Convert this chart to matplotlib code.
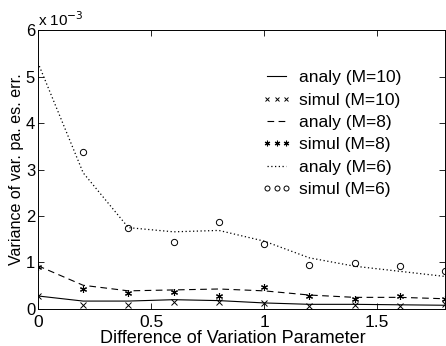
import numpy as np
import matplotlib
matplotlib.use('Agg')
import matplotlib.pyplot as plt

plt.rcParams['font.family'] = ['Liberation Sans', 'DejaVu Sans']

x = [0, 0.2, 0.4, 0.6, 0.8, 1.0, 1.2, 1.4, 1.6, 1.8]

# values in units of 1e-3
analy_m10 = [0.28, 0.17, 0.17, 0.20, 0.18, 0.13, 0.10, 0.10, 0.09, 0.08]
simul_m10 = [0.27, 0.09, 0.09, 0.14, 0.14, 0.12, 0.06, 0.08, 0.06, 0.10]
analy_m8 = [0.93, 0.51, 0.39, 0.41, 0.43, 0.39, 0.30, 0.25, 0.25, 0.22]
simul_m8 = [0.90, 0.43, 0.34, 0.37, 0.28, 0.47, 0.28, 0.22, 0.28, 0.22]
analy_m6 = [5.30, 2.93, 1.75, 1.66, 1.69, 1.46, 1.10, 0.92, 0.81, 0.70]
x_sim6 = [0.2, 0.4, 0.6, 0.8, 1.0, 1.2, 1.4, 1.6, 1.8]
simul_m6 = [3.38, 1.75, 1.44, 1.87, 1.39, 0.95, 0.99, 0.92, 0.81]

s = 1e-3
fig = plt.figure(figsize=(4.46, 3.46), dpi=100)
ax = fig.add_axes([0.085, 0.107, 0.913, 0.806])

ax.plot(x, np.array(analy_m10)*s, color='black', ls='-', lw=0.8, label='analy (M=10)')
ax.plot(x, np.array(simul_m10)*s, color='black', ls='none', marker='x', ms=4, mew=0.7, label='simul (M=10)')
ax.plot(x, np.array(analy_m8)*s, color='black', ls=(0, (6, 4)), lw=0.8, label='analy (M=8)')
ax.plot(x, np.array(simul_m8)*s, color='black', ls='none', marker=(6, 2, 0), ms=5, mew=0.8, label='simul (M=8)')
ax.plot(x, np.array(analy_m6)*s, color='black', ls=(0, (1, 2)), lw=0.9, label='analy (M=6)')
ax.plot(x_sim6, np.array(simul_m6)*s, color='black', ls='none', marker='o', ms=4.5, mfc='none', mew=0.7, label='simul (M=6)')

ax.set_xlim(0, 1.8)
ax.set_ylim(0, 6e-3)
ax.set_xticks([0, 0.5, 1, 1.5])
ax.set_xticklabels(['0', '0.5', '1', '1.5'])
ax.set_yticks(np.arange(0, 7)*s)
ax.set_yticklabels([str(i) for i in range(7)])
ax.tick_params(axis='both', direction='in', top=True, right=True, length=4, width=0.6)
ax.tick_params(axis='x', labelsize=12.5, pad=4)
ax.tick_params(axis='y', labelsize=12, pad=2)
for sp in ax.spines.values():
    sp.set_linewidth(0.7)

ax.set_xlabel('Difference of Variation Parameter', fontsize=13, labelpad=-1)
ax.xaxis.set_label_coords(0.478, -0.075)
ax.set_ylabel('Variance of var. pa. es. err.', fontsize=11.6, labelpad=1)
ax.text(0.0, 1.005, r'x 10$^{-3}$', transform=ax.transAxes, fontsize=11, va='bottom', ha='left')

ax.legend(loc='upper left', bbox_to_anchor=(262/446, 1 - 70/346), bbox_transform=fig.transFigure,
          frameon=False, fontsize=12.5, borderpad=0, borderaxespad=0,
          handlelength=1.7, handletextpad=0.45, labelspacing=0.42, markerscale=0.8, numpoints=3)

fig.savefig('out.png', dpi=100)
